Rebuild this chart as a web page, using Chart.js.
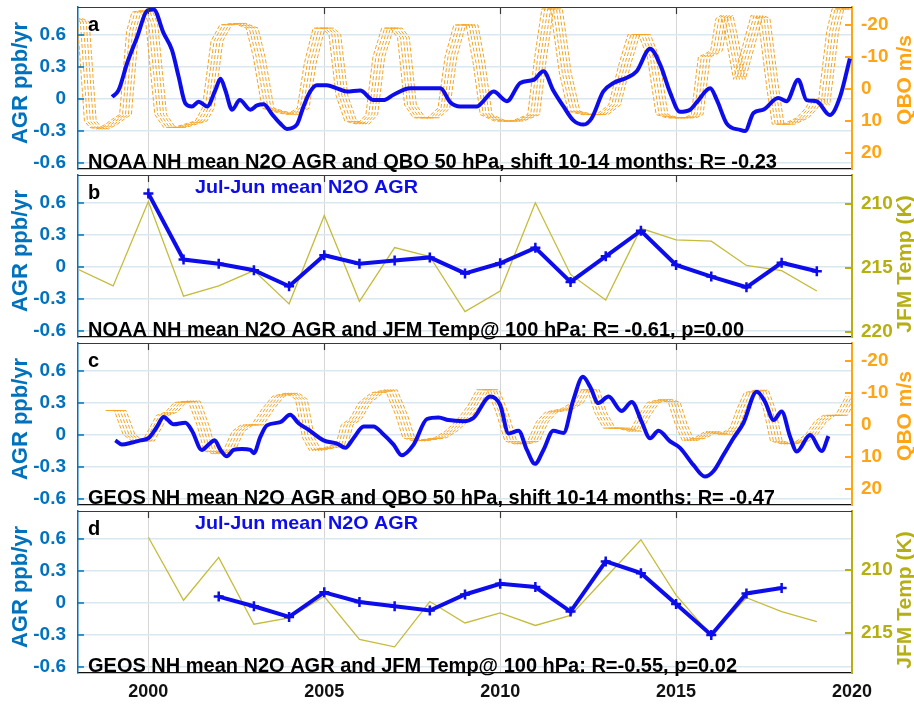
<!DOCTYPE html>
<html>
<head>
<meta charset="utf-8">
<title>N2O growth rate, QBO and JFM temperature</title>
<script src="https://cdn.jsdelivr.net/npm/chart.js@4.4.1/dist/chart.umd.min.js"></script>
<style>
  html, body { margin: 0; padding: 0; background: #fff; width: 914px; height: 705px; overflow: hidden; }
  #fig { position: relative; width: 914px; height: 705px; }
  #fig canvas { position: absolute; left: 0; }
</style>
</head>
<body>
<div id="fig"></div>
<script>
// ---------- axis ticks ----------
const yearTicks = [2000, 2005, 2010, 2015, 2020];
const agrTicks = [-0.6, -0.3, 0, 0.3, 0.6];
const qboTicks = [-20, -10, 0, 10, 20];
const tempTicksB = [210, 215, 220];
const tempTicksD = [210, 215];
const shiftMonths = [10, 11, 12, 13, 14];

// ---------- NOAA NH mean N2O growth rate, monthly (ppb/yr) ----------
const noaaMonYears = [1998.97,1999.15,1999.4,1999.68,1999.97,2000.15,2000.43,2000.67,2000.86,2001.05,2001.24,2001.43,2001.67,2001.9,2002.05,2002.19,2002.38,2002.6,2002.9,2003.09,2003.28,2003.51,2003.75,2003.94,2004.22,2004.41,2004.6,2004.79,2005.07,2005.36,2005.64,2006.02,2006.4,2006.68,2006.97,2007.44,2007.92,2008.3,2008.58,2008.86,2009.34,2009.52,2009.81,2010.19,2010.57,2010.95,2011.23,2011.51,2011.8,2012.08,2012.37,2012.6,2012.93,2013.22,2013.6,2013.88,2014.26,2014.55,2014.83,2015.11,2015.4,2015.59,2015.97,2016.16,2016.44,2016.82,2016.96,2017.2,2017.48,2017.9,2018.14,2018.47,2018.71,2018.99,2019.37,2019.66,2019.94];
const noaaMonAgr = [0.02,0.08,0.34,0.58,0.83,0.84,0.62,0.46,0.21,-0.04,-0.07,-0.025,-0.07,0.08,0.19,0.08,-0.1,-0.01,-0.1,-0.06,-0.05,-0.14,-0.23,-0.28,-0.24,-0.07,0.07,0.13,0.13,0.10,0.07,0.08,-0.01,-0.01,0.04,0.10,0.10,0.10,-0.03,-0.07,-0.07,-0.02,0.07,-0.02,0.15,0.18,0.26,0.08,-0.07,-0.2,-0.24,-0.18,0.07,0.15,0.2,0.26,0.47,0.32,0.06,-0.12,-0.1,-0.03,0.10,-0.01,-0.23,-0.29,-0.30,-0.13,-0.1,0.01,-0.02,0.18,-0.01,-0.02,-0.15,0.02,0.38];

// ---------- QBO 50 hPa zonal wind (m/s), observation dates (panel a) ----------
const qboYearsA = [1996.95,1997.15,1997.35,1997.5,1997.7,1997.95,1998.2,1998.35,1998.55,1998.7,1998.95,1999.1,1999.35,1999.6,1999.9,2000.2,2000.5,2000.7,2000.95,2001.2,2001.6,2001.95,2002.15,2002.4,2002.7,2003.1,2003.4,2003.6,2003.85,2004.1,2004.3,2004.5,2004.75,2005.1,2005.35,2005.55,2005.8,2006.05,2006.25,2006.45,2006.7,2007.1,2007.4,2007.6,2007.85,2008.2,2008.4,2008.6,2009.0,2009.5,2009.95,2010.15,2010.35,2010.6,2010.85,2011.1,2011.5,2011.9,2012.25,2012.55,2012.8,2013.1,2013.35,2013.6,2013.9,2014.4,2014.6,2014.8,2015.0,2015.15,2015.3,2015.45,2015.6,2015.8,2016.1,2016.3,2016.5,2016.75,2016.9,2017.2,2017.6,2017.85,2018.0,2018.2,2018.45,2018.6,2018.95];
const qboWindA = [-22,-21,10,12,12.5,11,9,8,-18,-24,-24.5,-20,8,12,12,11,10,6,-15,-20,-20.5,-19,-10,6,7,8,6,-8,-19,-19,-17,2,10,11,8,-10,-19,-19,-16,5,9,9,6,-10,-20,-20,-8,8,10,10,8,-10,-25,-25,-5,7,8,8,5,-8,-17,-17,-10,8,9,9,8,-10,-11,-12,-22,-23,-15,-3,-15,-23,-22,0,11,11,9,6,3,5,-18,-25,-25];

// ---------- NOAA Jul-Jun mean growth rate and JFM 100 hPa temperature ----------
const noaaAnnYears = [2000,2001,2002,2003,2004,2005,2006,2007,2008,2009,2010,2011,2012,2013,2014,2015,2016,2017,2018,2019];
const noaaAnnAgr = [0.69,0.07,0.03,-0.03,-0.18,0.11,0.03,0.06,0.09,-0.06,0.035,0.18,-0.14,0.10,0.34,0.02,-0.09,-0.19,0.04,-0.04];
const jfmYearsB = [1998,1999,2000,2001,2002,2003,2004,2005,2006,2007,2008,2009,2010,2011,2012,2013,2014,2015,2016,2017,2018,2019];
const jfmTempB = [215.1,216.4,209.8,217.2,216.4,215.2,217.8,210.9,217.6,213.4,214.1,218.4,216.8,209.9,215.5,217.5,211.9,212.8,212.9,214.8,215.2,216.8];

// ---------- GEOS NH mean N2O growth rate, monthly (ppb/yr) ----------
const geosMonYears = [1999.06,1999.25,1999.54,1999.77,2000.0,2000.25,2000.43,2000.72,2001.05,2001.24,2001.52,2001.71,2001.88,2002.05,2002.23,2002.42,2002.66,2002.9,2003.0,2003.18,2003.37,2003.75,2004.03,2004.27,2004.55,2004.98,2005.36,2005.6,2005.83,2006.12,2006.4,2006.64,2006.97,2007.2,2007.54,2007.92,2008.25,2008.53,2008.96,2009.24,2009.72,2010.0,2010.24,2010.52,2010.76,2010.99,2011.23,2011.51,2011.8,2012.08,2012.35,2012.56,2012.79,2013.08,2013.45,2013.74,2014.02,2014.26,2014.5,2014.83,2015.11,2015.49,2015.82,2016.06,2016.34,2016.63,2016.91,2017.29,2017.53,2017.77,2018.0,2018.24,2018.43,2018.81,2019.14,2019.33];
const geosMonAgr = [-0.05,-0.09,-0.07,-0.05,-0.03,0.08,0.17,0.10,0.115,0.04,-0.14,-0.09,-0.05,-0.14,-0.2,-0.14,-0.13,-0.14,-0.17,-0.02,0.09,0.12,0.19,0.11,0.05,-0.05,-0.08,-0.12,-0.03,0.08,0.08,0.02,-0.09,-0.19,-0.09,0.15,0.165,0.14,0.13,0.16,0.36,0.28,0.015,0.04,-0.14,-0.27,-0.14,0.04,0.02,0.33,0.545,0.45,0.30,0.36,0.225,0.31,0.125,-0.03,0.04,-0.06,-0.12,-0.28,-0.39,-0.34,-0.19,-0.03,0.11,0.405,0.31,0.14,0.22,-0.015,-0.155,0.0,-0.15,-0.01];

// ---------- QBO 50 hPa zonal wind (m/s), observation dates (panel c) ----------
const qboYearsC = [1997.95,1998.2,1998.45,1998.7,1999.0,1999.2,1999.4,1999.65,1999.9,2000.3,2000.55,2000.75,2001.0,2001.3,2001.55,2001.8,2002.1,2002.4,2002.7,2003.1,2003.35,2003.55,2003.75,2004.2,2004.5,2004.65,2004.9,2005.15,2005.5,2005.9,2006.2,2006.4,2006.7,2007.3,2007.6,2007.9,2008.25,2008.5,2008.8,2009.05,2009.3,2009.6,2009.95,2010.2,2010.45,2010.9,2011.2,2011.4,2011.65,2011.85,2012.1,2012.5,2012.85,2013.1,2013.35,2013.7,2013.95,2014.15,2014.35,2014.7,2015.0,2015.4,2015.7,2015.9,2016.1,2016.45,2016.65,2016.85,2017.2,2017.6,2017.85,2018.1,2018.35,2018.7,2018.9,2019.0];
const qboWindC = [-4.5,-4.5,3,5,5,1,-3,-4,-7,-7.5,0,8,9,8,2,0,0,-5,-9,-10,-8,4,8,7,6,0,-2,-7,-10,-11,-3,4,5,4,2,-1,-6,-11,-11,-4,5,6,5,-1,-4,-5,-7,-11,-11,-4,1,1,2,-3,-7,-8,-7,0,5,4,2,3,1,-5,-10,-11,-5,5,6,5,3,-1,-3,-3,-7,-9];

// ---------- GEOS Jul-Jun mean growth rate and JFM 100 hPa temperature ----------
const geosAnnYears = [2002,2003,2004,2005,2006,2007,2008,2009,2010,2011,2012,2013,2014,2015,2016,2017,2018];
const geosAnnAgr = [0.06,-0.03,-0.13,0.10,0.01,-0.03,-0.07,0.08,0.18,0.15,-0.08,0.39,0.28,-0.01,-0.30,0.09,0.14];
const jfmYearsD = [2000,2001,2002,2003,2004,2005,2006,2007,2008,2009,2010,2011,2012,2013,2014,2015,2016,2017,2018,2019];
const jfmTempD = [207.4,212.4,209.0,214.3,213.8,212.1,215.5,216.1,212.5,214.2,213.4,214.4,213.6,210.6,207.6,212.0,215.2,212.2,213.3,214.1];

// ---------- styling ----------
const FONT = '"Liberation Sans", Arial, Helvetica, sans-serif';
const BLUE = '#0d0deb';
const AXBLUE = '#0072BD';
const ORANGE = '#FFA413';
const QBOLINE = '#F5A524';
const OLIVE = '#B5AF12';
const TEMPLINE = '#C4BC3A';

Chart.defaults.font.family = FONT;

const pts = (xs, ys, dx = 0) => xs.map((x, i) => ({ x: x + dx, y: ys[i] }));

// one dashed line per QBO lag
const qboSets = (years, wind) => shiftMonths.map(m => ({
  data: pts(years, wind, m / 12), yAxisID: 'y2',
  borderColor: QBOLINE, borderWidth: 1, borderDash: [4, 2],
  pointRadius: 0, tension: 0, order: 1
}));
const monthlySet = (years, agr) => ({
  data: pts(years, agr), yAxisID: 'y', borderColor: BLUE, borderWidth: 4,
  pointRadius: 0, cubicInterpolationMode: 'monotone', order: 0
});
const annualSet = (years, agr) => ({
  data: pts(years, agr), yAxisID: 'y', borderColor: BLUE, borderWidth: 4,
  pointStyle: 'cross', pointRadius: 5, pointBorderWidth: 2.5,
  pointBorderColor: BLUE, pointBackgroundColor: BLUE, tension: 0, order: 0
});
const tempSet = (years, temp) => ({
  data: pts(years, temp), yAxisID: 'y2', borderColor: TEMPLINE, borderWidth: 1.3,
  pointRadius: 0, tension: 0, order: 1
});

function zeroPad(s) { s.paddingTop = 0; s.paddingBottom = 0; s.paddingLeft = 0; s.paddingRight = 0; }

// frame, inward ticks, panel letter, captions and axis titles
const panelDecor = {
  id: 'panelDecor',
  afterDraw(chart, _args, o) {
    const { ctx, chartArea: a } = chart;
    const xs = chart.scales.x, yl = chart.scales.y, yr = chart.scales.y2;
    ctx.save();
    ctx.strokeStyle = '#3a3a3a'; ctx.lineWidth = 1.2;
    ctx.beginPath();
    ctx.moveTo(a.left, a.top + 0.5); ctx.lineTo(a.right, a.top + 0.5);
    yearTicks.forEach(v => {
      const px = Math.round(xs.getPixelForValue(v)) + 0.5;
      if (px < a.right - 2) { ctx.moveTo(px, a.top); ctx.lineTo(px, a.top + 7); }
    });
    ctx.stroke();

    ctx.strokeStyle = AXBLUE; ctx.lineWidth = 1.5; ctx.beginPath();
    agrTicks.forEach(v => { const py = yl.getPixelForValue(v); ctx.moveTo(a.left, py); ctx.lineTo(a.left + 6, py); });
    ctx.stroke();
    ctx.strokeStyle = o.rightColor; ctx.lineWidth = 2; ctx.beginPath();
    o.rightTicks.forEach(v => { const py = yr.getPixelForValue(v); ctx.moveTo(a.right - 7, py); ctx.lineTo(a.right, py); });
    ctx.stroke();

    ctx.textAlign = 'left';
    ctx.fillStyle = '#000'; ctx.font = 'bold 20px ' + FONT; ctx.textBaseline = 'middle';
    ctx.fillText(o.letter, a.left + 10, a.top + 18);

    const fitted = (text, x, y, w) => {
      const m = ctx.measureText(text).width;
      ctx.save(); ctx.translate(x, y); ctx.scale(w / m, 1); ctx.fillText(text, 0, 0); ctx.restore();
    };
    if (o.note) {
      ctx.fillStyle = BLUE; ctx.font = 'bold 19px ' + FONT; ctx.textBaseline = 'middle';
      fitted(o.note, 195, a.top + 13, 223);
    }
    ctx.fillStyle = '#000'; ctx.font = 'bold 21px ' + FONT; ctx.textBaseline = 'alphabetic';
    fitted(o.title, a.left + 10, a.bottom - 1, o.titleWidth);

    const mid = (a.top + a.bottom) / 2;
    ctx.textAlign = 'center'; ctx.textBaseline = 'middle';
    ctx.save(); ctx.translate(21, mid - 5); ctx.rotate(-Math.PI / 2);
    ctx.fillStyle = AXBLUE; ctx.font = 'bold 22px ' + FONT; ctx.fillText('AGR ppb/yr', 0, 0); ctx.restore();
    ctx.save(); ctx.translate(905, mid + o.rightTitleDy); ctx.rotate(-Math.PI / 2);
    ctx.fillStyle = o.rightColor; ctx.font = 'bold 21px ' + FONT; ctx.fillText(o.rightTitle, 0, 0); ctx.restore();
    ctx.restore();
  }
};

const tickFont = { family: FONT, size: 19, weight: 'bold' };

function makeScales(p) {
  return {
    x: {
      type: 'linear', position: 'bottom', min: 1998, max: 2020,
      afterBuildTicks: s => { s.ticks = yearTicks.map(v => ({ value: v })); },
      afterFit: s => { s.height = p.xHeight; zeroPad(s); },
      grid: { color: '#d6d6d6', lineWidth: 1, drawTicks: false },
      border: { display: true, color: '#111', width: 1.3 },
      ticks: { display: p.showX, padding: 8, color: '#111', font: { family: FONT, size: 18, weight: 'bold' },
               maxRotation: 0, autoSkip: false, callback: v => String(v) }
    },
    y: {
      position: 'left', min: -0.656, max: 0.8625,
      afterBuildTicks: s => { s.ticks = agrTicks.map(v => ({ value: v })); },
      afterFit: s => { s.width = 78; zeroPad(s); },
      grid: { color: '#dbe7ef', lineWidth: 1.5, drawTicks: false },
      border: { display: true, color: AXBLUE, width: 1.5 },
      ticks: { padding: 12, color: AXBLUE, font: tickFont, callback: v => (v === 0 ? '0' : v.toFixed(1)) }
    },
    y2: {
      position: 'right', reverse: true, min: p.right.min, max: p.right.max,
      afterBuildTicks: s => { s.ticks = p.right.ticks.map(v => ({ value: v })); },
      afterFit: s => { s.width = 62; zeroPad(s); },
      grid: { drawOnChartArea: false, drawTicks: false },
      border: { display: true, color: p.right.color, width: 2 },
      ticks: { padding: 9, color: p.right.color, font: tickFont, callback: v => String(v) }
    }
  };
}

const qboAxis = { min: -25.6, max: 25, ticks: qboTicks, color: ORANGE, title: 'QBO m/s', dy: -8 };

const panels = [
  { top: 0, h: 172, padBottom: 3, xHeight: 0, showX: false, letter: 'a',
    title: 'NOAA NH mean N2O AGR and QBO 50 hPa, shift 10-14 months: R= -0.23', titleWidth: 689,
    right: qboAxis,
    datasets: [monthlySet(noaaMonYears, noaaMonAgr), ...qboSets(qboYearsA, qboWindA)] },
  { top: 168, h: 172, padBottom: 3, xHeight: 0, showX: false, letter: 'b',
    note: 'Jul-Jun mean N2O AGR',
    title: 'NOAA NH mean N2O AGR and JFM Temp@ 100 hPa: R= -0.61, p=0.00', titleWidth: 656,
    right: { min: 207.73, max: 220.39, ticks: tempTicksB, color: OLIVE, title: 'JFM Temp (K)', dy: 8 },
    datasets: [annualSet(noaaAnnYears, noaaAnnAgr), tempSet(jfmYearsB, jfmTempB)] },
  { top: 336, h: 172, padBottom: 3, xHeight: 0, showX: false, letter: 'c',
    title: 'GEOS NH mean N2O AGR and QBO 50 hPa, shift 10-14 months: R= -0.47', titleWidth: 687,
    right: qboAxis,
    datasets: [monthlySet(geosMonYears, geosMonAgr), ...qboSets(qboYearsC, qboWindC)] },
  { top: 504, h: 201, padBottom: 0, xHeight: 32, showX: true, letter: 'd',
    note: 'Jul-Jun mean N2O AGR',
    title: 'GEOS NH mean N2O AGR and JFM Temp@ 100 hPa: R=-0.55, p=0.02', titleWidth: 649,
    right: { min: 205.32, max: 218.17, ticks: tempTicksD, color: OLIVE, title: 'JFM Temp (K)', dy: 8 },
    datasets: [annualSet(geosAnnYears, geosAnnAgr), tempSet(jfmYearsD, jfmTempD)] }
];

const fig = document.getElementById('fig');
panels.forEach(p => {
  const cv = document.createElement('canvas');
  cv.width = 914; cv.height = p.h;
  cv.style.top = p.top + 'px';
  fig.appendChild(cv);
  new Chart(cv, {
    type: 'line',
    data: { datasets: p.datasets },
    options: {
      responsive: false, animation: false, events: [],
      layout: { padding: { top: 7, bottom: p.padBottom, left: 0, right: 0 }, autoPadding: false },
      plugins: {
        legend: { display: false }, tooltip: { enabled: false },
        panelDecor: {
          letter: p.letter, note: p.note || null, title: p.title, titleWidth: p.titleWidth,
          rightColor: p.right.color, rightTicks: p.right.ticks, rightTitle: p.right.title, rightTitleDy: p.right.dy
        }
      },
      scales: makeScales(p)
    },
    plugins: [panelDecor]
  });
});
</script>
</body>
</html>
